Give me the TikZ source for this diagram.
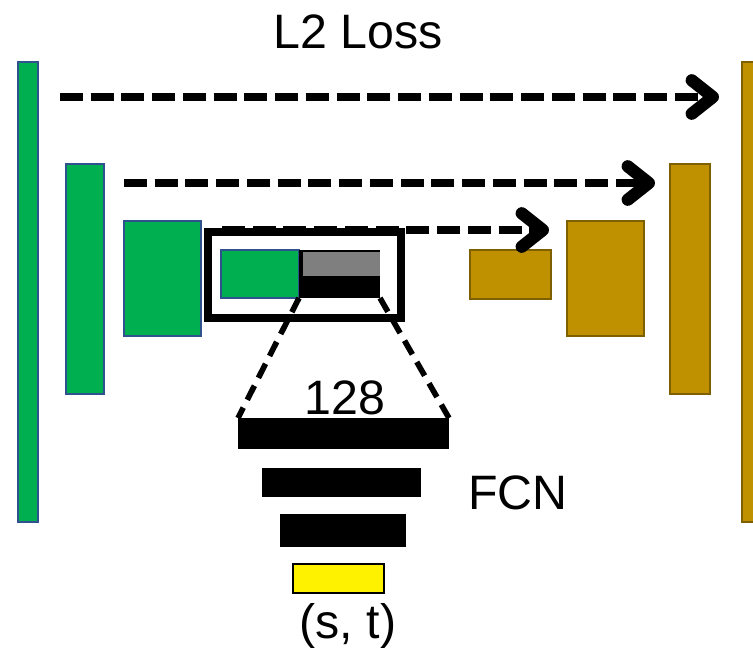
\documentclass[tikz,border=0pt]{standalone}
\usepackage{fontspec}
\setmainfont{Liberation Sans}
\usepackage{tikz}
\usetikzlibrary{positioning}
\usetikzlibrary{arrows.meta}
\usepackage{xcolor}

\definecolor{encgreen}{HTML}{00B050}
\definecolor{encline}{HTML}{2F528F}
\definecolor{decgold}{HTML}{BF9000}
\definecolor{decline}{HTML}{7F6000}
\definecolor{codegray}{HTML}{7F7F7F}

\tikzset{
  blk/.style={inner sep=0pt, outer sep=0pt, anchor=north west},
  enc/.style={blk, draw=encline, fill=encgreen, line width=1.2pt},
  dec/.style={blk, draw=decline, fill=decgold, line width=1.2pt},
  fcbar/.style={blk, fill=black},
  skiparrow/.style={line width=4.5pt, dash pattern=on 13pt off 4.5pt,
    -{Straight Barb[length=12pt,width=19pt,line width=7pt,round]}},
  zoomline/.style={line width=3.2pt, dash pattern=on 9pt off 5pt},
  lbl/.style={font=\fontsize{27.5}{32}\selectfont, inner sep=0pt}
}

\begin{document}
\begin{tikzpicture}[x=0.02cm, y=-0.02cm]
    \useasboundingbox (0,0) rectangle (753,654);

    % encoder
    \node[enc, minimum width=0.40cm, minimum height=9.20cm] (g1) at (18,62) {};
    \node[enc, minimum width=0.76cm, minimum height=4.60cm] (g2) at (66,164) {};
    \node[enc, minimum width=1.54cm, minimum height=2.30cm] (g3) at (124,221) {};
    \node[enc, minimum width=1.56cm, minimum height=0.96cm] (g4) at (221,250) {};

    % latent code
    \node[fcbar, minimum width=1.62cm, minimum height=0.96cm] (code) at (299,250) {};
    \node[blk, fill=codegray, minimum width=1.54cm, minimum height=0.48cm] (gray) at (303,252) {};
    \node[blk, draw=black, line width=5pt, minimum width=3.86cm, minimum height=1.72cm] (frame) at (208,232) {};

    % decoder
    \node[dec, minimum width=1.62cm, minimum height=0.98cm] (d1) at (470,250) {};
    \node[dec, minimum width=1.54cm, minimum height=2.30cm] (d2) at (567,221) {};
    \node[dec, minimum width=0.80cm, minimum height=4.60cm] (d3) at (670,164) {};
    \node[dec, minimum width=0.40cm, minimum height=9.20cm] (d4) at (742,62) {};

    % skip connections
    \coordinate (s1) at (60,97);
    \coordinate (e1) at (719,97);
    \coordinate (s2) at (124,183);
    \coordinate (e2) at (655,183);
    \coordinate (s3) at (222,230);
    \coordinate (e3) at (549,230);
    \draw[skiparrow] (s1) -- (e1);
    \draw[skiparrow] (s2) -- (e2);
    \draw[skiparrow] (s3) -- (e3);
    \node[lbl] (loss) at (358,32) {L2 Loss};

    % fully connected network
    \node[fcbar, minimum width=4.22cm, minimum height=0.62cm] (f1) at (238,418) {};
    \node[fcbar, minimum width=3.18cm, minimum height=0.58cm] (f2) at (262,468) {};
    \node[fcbar, minimum width=2.52cm, minimum height=0.66cm] (f3) at (280,514) {};
    \node[blk, draw=black, fill=yellow, line width=1.2pt,
          minimum width=1.82cm, minimum height=0.58cm] (st) at (293,564) {};

    \draw[zoomline] (code.south west) -- (f1.north west);
    \draw[zoomline] (code.south east) -- (f1.north east);

    \node[lbl, anchor=south] (width) at (345,415) {128};
    \node[lbl] (fcn) at (518,493) {FCN};
    \node[lbl, anchor=north] (out) at (348,603) {(s, t)};
\end{tikzpicture}
\end{document}
